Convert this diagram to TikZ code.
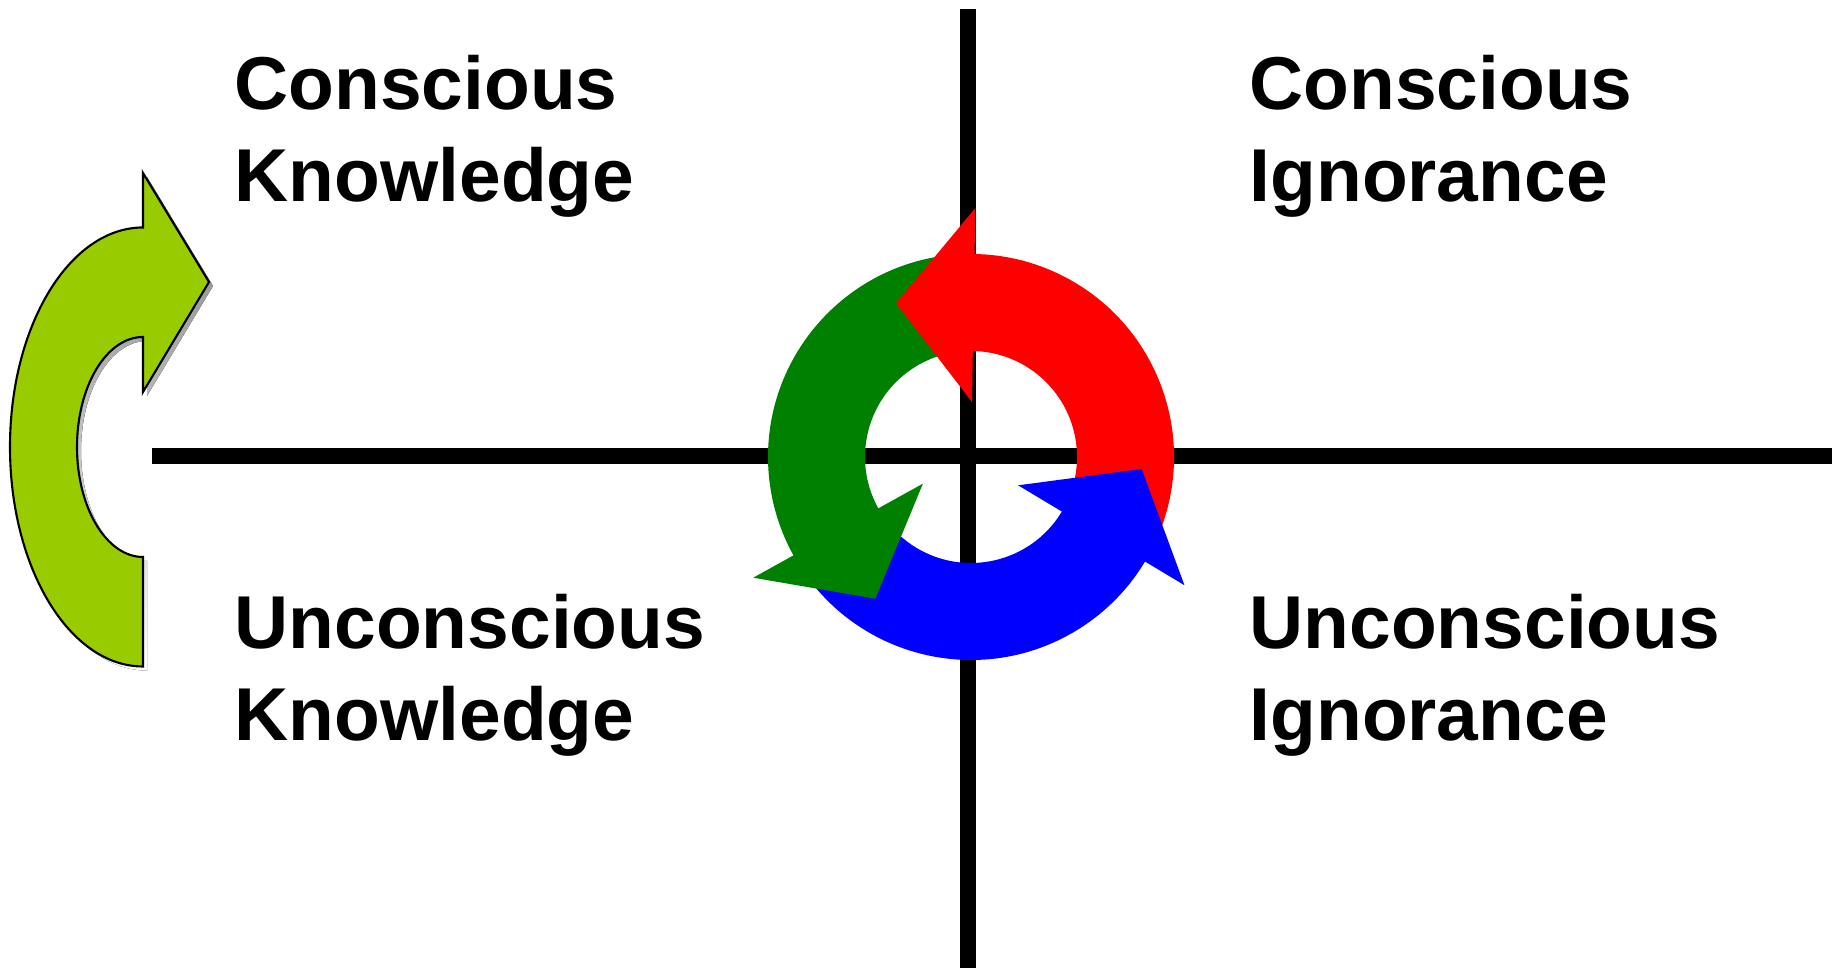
\documentclass[tikz,border=0pt]{standalone}
\usepackage{fontspec}
\setmainfont{Liberation Sans}
\definecolor{uturn}{HTML}{99CC00}
\definecolor{cred}{HTML}{FF0000}
\definecolor{cgreen}{HTML}{008000}
\definecolor{cblue}{HTML}{0000FF}
\definecolor{shade}{HTML}{808080}

\begin{document}
\begin{tikzpicture}[
  x=0.01cm, y=0.01cm,
  axis/.style={line width=4.55pt},
  quad/.style={font=\fontsize{21.3}{26.2}\selectfont\bfseries, text=black,
    align=left, anchor=base west, inner sep=0pt}
]
\useasboundingbox (0,0) rectangle (1837,968);
\def\rin{106} \def\rout{203}
\def\hin{55} \def\hout{249}
\def\tr{171} \def\ta{27}

% axes
\coordinate (ytop) at (967.5,959);
\coordinate (ybot) at (967.5,0);
\coordinate (xl) at (152,511.5);
\coordinate (xr) at (1832,511.5);
\draw[axis] (ytop) -- (ybot);
\draw[axis] (xl) -- (xr);

% cycle of three arrows (bands first, heads on top)
\begin{scope}[shift={(971,511)}]
\fill[cred] (-27:\rout) arc[start angle=-27, end angle=91, radius=\rout]
  -- (91:\rin) arc[start angle=91, end angle=-27, radius=\rin] -- cycle;
\fill[cgreen] (93:\rout) arc[start angle=93, end angle=211, radius=\rout]
  -- (211:\rin) arc[start angle=211, end angle=93, radius=\rin] -- cycle;
\fill[cblue] (213:\rout) arc[start angle=213, end angle=331, radius=\rout]
  -- (331:\rin) arc[start angle=331, end angle=213, radius=\rin] -- cycle;
\fill[cred] (89:\hout) -- ({89+\ta}:\tr) -- (89:\hin) -- cycle;
\fill[cgreen] (209:\hout) -- ({209+\ta}:\tr) -- (209:\hin) -- cycle;
\fill[cblue] (329:\hout) -- ({329+\ta}:\tr) -- (329:\hin) -- cycle;
\end{scope}

% u-turn arrow on the left
\def\uturnpath{(143,301.5) arc[start angle=270, end angle=90, x radius=133, y radius=219.5]
  -- (143,795) -- (209,686) -- (143,576) -- (143,631)
  arc[start angle=90, end angle=270, x radius=66, y radius=110] -- cycle}
\fill[shade, shift={(4,-4)}] \uturnpath;
\filldraw[fill=uturn, draw=black, line width=0.6pt] \uturnpath;

% quadrant labels (base = last line)
\node[quad] (ck) at (234,766) {Conscious\\Knowledge};
\node[quad] (ci) at (1249,766) {Conscious\\Ignorance};
\node[quad] (uk) at (234,227) {Unconscious\\Knowledge};
\node[quad] (ui) at (1249,227) {Unconscious\\Ignorance};
\end{tikzpicture}
\end{document}
